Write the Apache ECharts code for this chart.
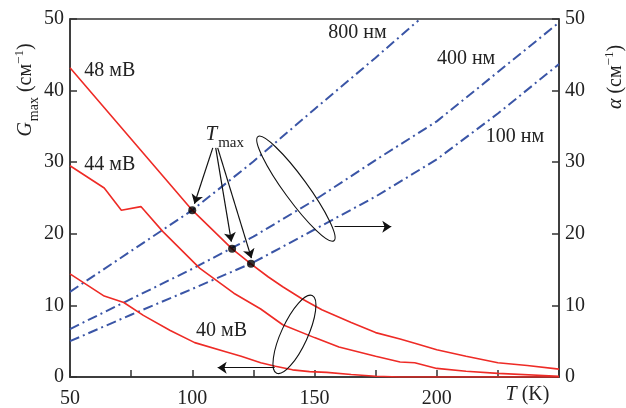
<!DOCTYPE html>
<html>
<head>
<meta charset="utf-8">
<script src="https://cdn.jsdelivr.net/npm/echarts@6/dist/echarts.min.js"></script>
<style>
  html, body { margin: 0; padding: 0; background: #fff; }
  #chart { width: 626px; height: 408px; }
</style>
</head>
<body>
<div id="chart"></div>
<script>
// G_max(T), три кривые (мВ)
const t48 = [50, 100, 116.3, 124, 131, 137, 145, 153, 165, 175, 185, 191, 200, 212, 225, 237, 250];
const g48 = [43.2, 23.3, 17.9, 15.8, 14.0, 12.6, 10.9, 9.4, 7.6, 6.2, 5.3, 4.7, 3.8, 2.9, 2.0, 1.6, 1.1];
const t44 = [50, 64, 71, 79, 88, 103, 117, 128, 137, 150, 160, 175, 185, 191, 200, 212, 225, 250];
const g44 = [29.5, 26.4, 23.3, 23.8, 20.3, 15.2, 11.7, 9.5, 7.3, 5.5, 4.2, 2.9, 2.1, 2.0, 1.2, 0.8, 0.5, 0.1];
const t40 = [50, 64, 72, 80, 91, 101, 114, 120, 128, 134, 141, 148, 155, 165, 175, 185, 250];
const g40 = [14.4, 11.3, 10.4, 8.6, 6.5, 4.8, 3.5, 2.9, 2.0, 1.5, 1.0, 0.75, 0.65, 0.35, 0.1, 0, 0];

// alpha(T), три толщины (нм)
const tA800 = [50, 75, 100, 125, 150, 175, 192.5];
const a800 = [11.9, 17.6, 23.3, 30.1, 37.4, 44.6, 49.8];
const tA = [50, 75, 100, 125, 150, 175, 200, 225, 250];
const a400 = [6.7, 10.9, 15.1, 19.6, 24.7, 30.3, 35.7, 42.6, 49.5];
const a100 = [5.0, 8.7, 12.3, 16.0, 20.6, 25.2, 30.4, 36.8, 43.7];

// точки T_max
const tMax = [100, 116.3, 124];
const gMax = [23.3, 17.9, 15.8];

// подписи оси T
const xTicks = [50, 100, 150, 200];

const FONT = '"Liberation Serif", "DejaVu Serif", serif';
const RED = '#ee2b26';
const BLUE = '#3a55a6';
const INK = '#222';

const pairs = (xs, ys) => xs.map((x, i) => [x, ys[i]]);

const chart = echarts.init(document.getElementById('chart'));

const redLine = (name, xs, ys) => ({
  name, type: 'line', data: pairs(xs, ys),
  showSymbol: false, symbol: 'none', smooth: false,
  lineStyle: { color: RED, width: 1.6 }, z: 3
});
const blueLine = (name, xs, ys) => ({
  name, type: 'line', yAxisIndex: 1, data: pairs(xs, ys),
  showSymbol: false, symbol: 'none', smooth: false,
  lineStyle: { color: BLUE, width: 2, type: [10, 4, 2, 4] }, z: 2
});

const axisCommon = {
  type: 'value',
  axisLine: { show: true, lineStyle: { color: '#333', width: 1.5 } },
  axisTick: { show: true, inside: true, length: 7, lineStyle: { color: '#333', width: 1.5 } },
  splitLine: { show: false },
};

// стрелки (в координатах данных)
const arrows = [
  [[108.4, 32.0], [100.9, 24.2]],
  [[109.6, 32.0], [116.0, 18.9]],
  [[110.4, 32.0], [124.2, 16.6]],
  [[158.2, 21.0], [181.4, 21.0]],
  [[133.7, 1.3], [110.4, 1.3]]
];

chart.setOption({
  animation: false,
  grid: {
    left: 70, right: 67, top: 19, bottom: 31, outerBoundsMode: 'none',
    show: true, borderColor: '#333', borderWidth: 1.5
  },
  xAxis: Object.assign({}, axisCommon, {
    min: 50, max: 250, interval: 25,
    axisLabel: {
      fontSize: 20, fontFamily: FONT, color: INK, margin: 12,
      formatter: v => xTicks.includes(v) ? String(v) : ''
    }
  }),
  yAxis: [
    Object.assign({}, axisCommon, {
      position: 'left', min: 0, max: 50, interval: 10,
      axisLabel: { fontSize: 20, fontFamily: FONT, color: INK, margin: 6 }
    }),
    Object.assign({}, axisCommon, {
      position: 'right', min: 0, max: 50, interval: 10,
      axisLabel: { fontSize: 20, fontFamily: FONT, color: INK, margin: 6 }
    })
  ],
  series: [
    blueLine('800 нм', tA800, a800),
    blueLine('400 нм', tA, a400),
    blueLine('100 нм', tA, a100),
    redLine('48 мВ', t48, g48),
    redLine('44 мВ', t44, g44),
    redLine('40 мВ', t40, g40),
    {
      name: 'T_max', type: 'scatter', data: pairs(tMax, gMax),
      symbolSize: 8, itemStyle: { color: '#000' }, z: 5
    },
    {
      type: 'lines', coordinateSystem: 'cartesian2d',
      data: arrows.map(c => ({ coords: c })),
      symbol: ['none', 'arrow'], symbolSize: 9,
      lineStyle: { color: '#111', width: 1.2, opacity: 1 }, z: 6
    }
  ]
});

// подписи и эллипсы
const toPx = p => chart.convertToPixel({ gridIndex: 0 }, p);

const notes = [
  { text: '48 мВ', at: [66.3, 42.8] },
  { text: '44 мВ', at: [66.3, 29.7] },
  { text: '40 мВ', at: [112, 6.4] },
  { text: '800 нм', at: [167.6, 48.1] },
  { text: '400 нм', at: [212, 44.4] },
  { text: '100 нм', at: [232, 33.6] }
];

const graphics = notes.map(n => {
  const p = toPx(n.at);
  return {
    type: 'text', x: p[0], y: p[1], z: 10,
    style: { text: n.text, fill: INK, font: '20px ' + FONT, align: 'center', verticalAlign: 'middle' }
  };
});

const tm = toPx([113.3, 33.85]);
graphics.push({
  type: 'text', x: tm[0], y: tm[1], z: 10,
  style: {
    text: '{t|T}{s|max}', align: 'center', verticalAlign: 'middle', fill: INK,
    rich: {
      t: { fontFamily: FONT, fontSize: 21, fontStyle: 'italic', lineHeight: 21, verticalAlign: 'top', fill: INK },
      s: { fontFamily: FONT, fontSize: 15, lineHeight: 15, verticalAlign: 'top', padding: [11, 0, 0, 1], fill: INK }
    }
  }
});

const tk = toPx([237.1, -2.5]);
graphics.push({
  type: 'text', x: tk[0], y: tk[1], z: 10,
  style: {
    text: '{t|T}{n| (K)}', align: 'center', verticalAlign: 'middle', fill: INK,
    rich: {
      t: { fontFamily: FONT, fontSize: 20, fontStyle: 'italic', fill: INK },
      n: { fontFamily: FONT, fontSize: 20, fill: INK }
    }
  }
});

// названия осей
const axisRich = {
  i: { fontFamily: FONT, fontSize: 20, fontStyle: 'italic', lineHeight: 20, verticalAlign: 'top', padding: [4, 0, 0, 0], fill: INK },
  n: { fontFamily: FONT, fontSize: 20, lineHeight: 20, verticalAlign: 'top', padding: [4, 0, 0, 0], fill: INK },
  sub: { fontFamily: FONT, fontSize: 14, lineHeight: 14, verticalAlign: 'top', padding: [15, 0, 0, 1], fill: INK },
  sup: { fontFamily: FONT, fontSize: 13, lineHeight: 13, verticalAlign: 'top', padding: [1, 0, 0, 0], fill: INK }
};
graphics.push({
  type: 'text', x: 22, y: 90, rotation: Math.PI / 2, z: 10,
  style: { text: '{i|G}{sub|max}{n| (см}{sup|−1}{n|)}', align: 'center', verticalAlign: 'middle', rich: axisRich }
});
graphics.push({
  type: 'text', x: 612, y: 77, rotation: Math.PI / 2, z: 10,
  style: { text: '{i|α}{n| (см}{sup|−1}{n|)}', align: 'center', verticalAlign: 'middle', rich: axisRich }
});

const ellipses = [
  { at: [142.4, 26.3], rx: 11.6, ry: 64.5, rot: 0.63 },
  { at: [141.8, 5.95], rx: 13.2, ry: 42.7, rot: -0.43 }
];
ellipses.forEach(e => {
  const c = toPx(e.at);
  graphics.push({
    type: 'ellipse', x: c[0], y: c[1], rotation: e.rot, z: 9,
    shape: { cx: 0, cy: 0, rx: e.rx, ry: e.ry },
    style: { fill: 'none', stroke: '#111', lineWidth: 1.1 }
  });
});

chart.setOption({ graphic: graphics });
</script>
</body>
</html>
